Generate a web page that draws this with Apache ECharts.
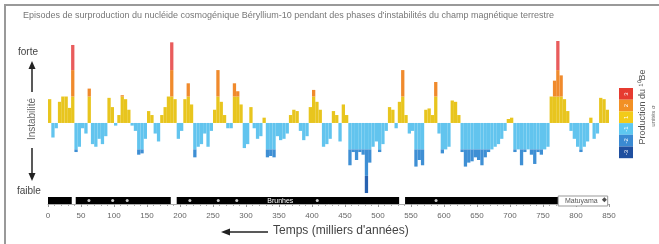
<!DOCTYPE html>
<html>
<head>
<meta charset="utf-8">
<script src="https://cdn.jsdelivr.net/npm/echarts@6/dist/echarts.min.js"></script>
<style>
html, body { margin: 0; padding: 0; background: #fff; }
#chart { width: 659px; height: 244px; }
</style>
</head>
<body>
<div id="chart"></div>
<script>
// production de 10Be (unités sigma), une valeur par tranche de 5 ka, de 0 à 850 ka
const production = [
  0.9, -0.55, -0.2, 0.8, 1.0, 1.0, 0.57, 2.95, -1.1, -0.9,
  -0.2, -0.4, 1.3, -0.8, -0.9, -0.6, -0.8, -0.5, 0.95, 0.6,
  -0.1, 0.3, 1.05, 0.9, 0.5, -0.1, -0.3, -1.2, -1.15, -0.6,
  0.45, 0.3, -0.4, -0.7, 0.3, 0.6, 1.0, 3.05, 0.9, -0.6,
  -0.3, 0.9, 1.5, 0.7, -1.3, -0.9, -0.8, -0.4, -0.9, -0.3,
  0.5, 2.0, 0.8, 0.3, -0.2, -0.2, 1.5, 1.2, 0.7, -0.95,
  -0.8, 0.6, -0.2, -0.6, -0.5, 0.2, -1.3, -1.25, -1.3, -0.5,
  -0.65, -0.6, -0.4, 0.3, 0.5, 0.45, -0.3, -0.65, -0.5, 0.6,
  1.25, 0.8, 0.5, -0.9, -0.8, -0.6, 0.45, 0.3, -0.7, 0.7,
  0.3, -1.6, -1.1, -1.4, -1.1, -1.2, -2.65, -1.5, -0.9, -0.7,
  -1.1, -0.8, -0.3, 0.6, 0.5, -0.2, 0.8, 2.0, 0.3, -0.4,
  -0.3, -1.65, -1.4, -1.6, 0.5, 0.55, 0.3, 1.55, -0.4, -1.15,
  -1.0, -0.9, 0.85, 0.8, 0.3, -1.1, -1.65, -1.5, -1.45, -1.3,
  -1.4, -1.6, -1.3, -1.1, -1.0, -0.9, -0.8, -0.6, -0.3, 0.15,
  0.2, -1.1, -1.0, -1.6, -1.1, -1.0, -1.2, -1.55, -1.1, -1.2,
  -1.0, -0.9, 1.0, 1.6, 3.1, 1.8, 0.9, 0.45, -0.3, -0.6,
  -0.9, -1.1, -0.9, -0.7, 0.2, -0.6, -0.4, 0.95, 0.9, 0.5
];
const binStart = production.map((v, i) => i * 5);

// paliers de couleur (unités sigma)
const bandLo = [0, 1, 2, -1, -2, -4];
const bandHi = [1, 2, 4, 0, -1, -2];
const bandColors = ['#e8c51e', '#f08a2c', '#e95c5c', '#62c4ee', '#3e8fd4', '#2862b0'];

// chronologie magnétique (ka) : segments du bandeau
const chronStart = [0, 42, 195, 541, 773];
const chronEnd = [36, 186, 532, 773, 848];
const chronType = [0, 0, 0, 0, 1];
const chronNames = ['Brunhes', 'Matuyama'];
const chronNameAge = [352, 808];
// excursions marquées sur le bandeau (ka)
const excursions = [62, 98, 120, 215, 258, 286, 408, 588];

// légende
const scaleLabels = ['3', '2', '1', '-1', '-2', '-3'];
const scaleColors = ['#e63b30', '#f29024', '#f2cb1a', '#5ec7f0', '#3a8ad2', '#1f4f9f'];

function bandPart(v, lo, hi) {
  if (hi > 0) return v > lo ? Math.min(v - lo, hi - lo) : 0;
  return v < hi ? -Math.min(hi - v, hi - lo) : 0;
}

const chart = echarts.init(document.getElementById('chart'));

const barSeries = bandLo.map((lo, k) => ({
  type: 'bar',
  stack: 'be',
  xAxisIndex: 0,
  yAxisIndex: 0,
  barCategoryGap: '0%',
  itemStyle: { color: bandColors[k] },
  data: production.map(v => bandPart(v, lo, bandHi[k])),
  silent: true
}));

const legendGraphics = [];
scaleColors.forEach((c, i) => {
  legendGraphics.push({
    type: 'rect', shape: { x: 619, y: 88 + i * 11.7, width: 14, height: 11.7 },
    style: { fill: c }
  });
  legendGraphics.push({
    type: 'text', x: 626, y: 94 + i * 11.7, rotation: Math.PI / 2,
    style: { text: scaleLabels[i], fill: '#fff', font: '6px Liberation Sans', align: 'center', verticalAlign: 'middle' }
  });
});

const nameColors = ['#ffffff', '#555555'];

const option = {
  animation: false,
  grid: [
    { left: 48, right: 50, top: 41, height: 156 },
    { left: 48, right: 50, top: 197, height: 7 }
  ],
  xAxis: [
    { type: 'category', gridIndex: 0, data: binStart, show: false, boundaryGap: true },
    {
      type: 'value', gridIndex: 1, min: 0, max: 850, interval: 50, offset: 4,
      axisLine: { show: true, lineStyle: { color: '#999', width: 0.8 } },
      axisTick: { show: true, length: 3, lineStyle: { color: '#999' } },
      minorTick: { show: true, splitNumber: 5, length: 2, lineStyle: { color: '#aaa' } },
      splitLine: { show: false },
      axisLabel: { color: '#666', fontSize: 8, fontFamily: 'Liberation Sans', margin: 4 }
    }
  ],
  yAxis: [
    { type: 'value', gridIndex: 0, min: -2.8, max: 3.1, show: false },
    { type: 'value', gridIndex: 1, min: 0, max: 1, show: false }
  ],
  series: barSeries.concat([
    {
      type: 'custom',
      xAxisIndex: 1, yAxisIndex: 1,
      silent: true,
      data: chronStart.map((s, i) => [s, chronEnd[i], chronType[i]]),
      renderItem: function (params, api) {
        const a = api.coord([api.value(0), 0]);
        const b = api.coord([api.value(1), 1]);
        const white = api.value(2) === 1;
        return {
          type: 'rect',
          shape: { x: a[0], y: b[1] - (white ? 1 : 0), width: b[0] - a[0], height: a[1] - b[1] + (white ? 3 : 0) },
          style: { fill: white ? '#fff' : '#000', stroke: white ? '#999' : null, lineWidth: 1 }
        };
      }
    },
    {
      type: 'scatter',
      xAxisIndex: 1, yAxisIndex: 1,
      silent: true,
      symbol: 'circle', symbolSize: 3,
      itemStyle: { color: '#fff' },
      data: excursions.map(x => [x, 0.5])
    },
    {
      type: 'scatter',
      xAxisIndex: 1, yAxisIndex: 1,
      silent: true,
      symbol: 'diamond', symbolSize: 5,
      itemStyle: { color: '#222' },
      data: [[843, 0.6]]
    },
    {
      type: 'custom',
      xAxisIndex: 1, yAxisIndex: 1,
      silent: true,
      z: 5,
      data: chronNameAge.map((a, i) => [a, 0.5, i]),
      renderItem: function (params, api) {
        const p = api.coord([api.value(0), api.value(1)]);
        const i = api.value(2);
        return {
          type: 'text',
          x: p[0], y: p[1] + 0.5,
          style: {
            text: chronNames[i], fill: nameColors[i],
            font: '7px Liberation Sans', align: 'center', verticalAlign: 'middle'
          }
        };
      }
    }
  ]),
  graphic: [
    { type: 'line', shape: { x1: 4, y1: 5, x2: 660, y2: 5 }, style: { stroke: '#999', lineWidth: 2 } },
    { type: 'line', shape: { x1: 5, y1: 5, x2: 5, y2: 244 }, style: { stroke: '#999', lineWidth: 2 } },
    {
      type: 'text', left: 23, top: 11,
      style: {
        text: "Episodes de surproduction du nucléide cosmogénique Béryllium-10 pendant des phases d'instabilités du champ magnétique terrestre",
        fill: '#777', font: '9px Liberation Sans'
      }
    },
    { type: 'text', left: 18, top: 47, style: { text: 'forte', fill: '#444', font: '10px Liberation Sans' } },
    { type: 'text', left: 17, top: 186, style: { text: 'faible', fill: '#444', font: '10px Liberation Sans' } },
    {
      type: 'text', x: 32, y: 119, rotation: Math.PI / 2,
      style: { text: 'Instabilité', fill: '#666', font: '10px Liberation Sans', align: 'center', verticalAlign: 'middle' }
    },
    { type: 'line', shape: { x1: 32, y1: 66, x2: 32, y2: 92 }, style: { stroke: '#222', lineWidth: 1.5 } },
    { type: 'polygon', shape: { points: [[32, 61], [28.5, 69], [35.5, 69]] }, style: { fill: '#222' } },
    { type: 'line', shape: { x1: 32, y1: 148, x2: 32, y2: 175 }, style: { stroke: '#222', lineWidth: 1.5 } },
    { type: 'polygon', shape: { points: [[32, 181], [28.5, 173], [35.5, 173]] }, style: { fill: '#222' } },
    { type: 'line', shape: { x1: 228, y1: 232, x2: 268, y2: 232 }, style: { stroke: '#222', lineWidth: 1.5 } },
    { type: 'polygon', shape: { points: [[221, 232], [230, 228.5], [230, 235.5]] }, style: { fill: '#222' } },
    {
      type: 'text', left: 273, top: 225,
      style: { text: "Temps (milliers d'années)", fill: '#444', font: '12px Liberation Sans' }
    },
    {
      type: 'text', x: 643, y: 107, rotation: Math.PI / 2,
      style: { text: 'Production du ¹⁰Be', fill: '#555', font: '9px Liberation Sans', align: 'center', verticalAlign: 'middle' }
    },
    {
      type: 'text', x: 653, y: 116, rotation: Math.PI / 2,
      style: { text: 'unités σ', fill: '#666', font: '6px Liberation Sans', align: 'center', verticalAlign: 'middle' }
    }
  ].concat(legendGraphics)
};

chart.setOption(option);
</script>
</body>
</html>
